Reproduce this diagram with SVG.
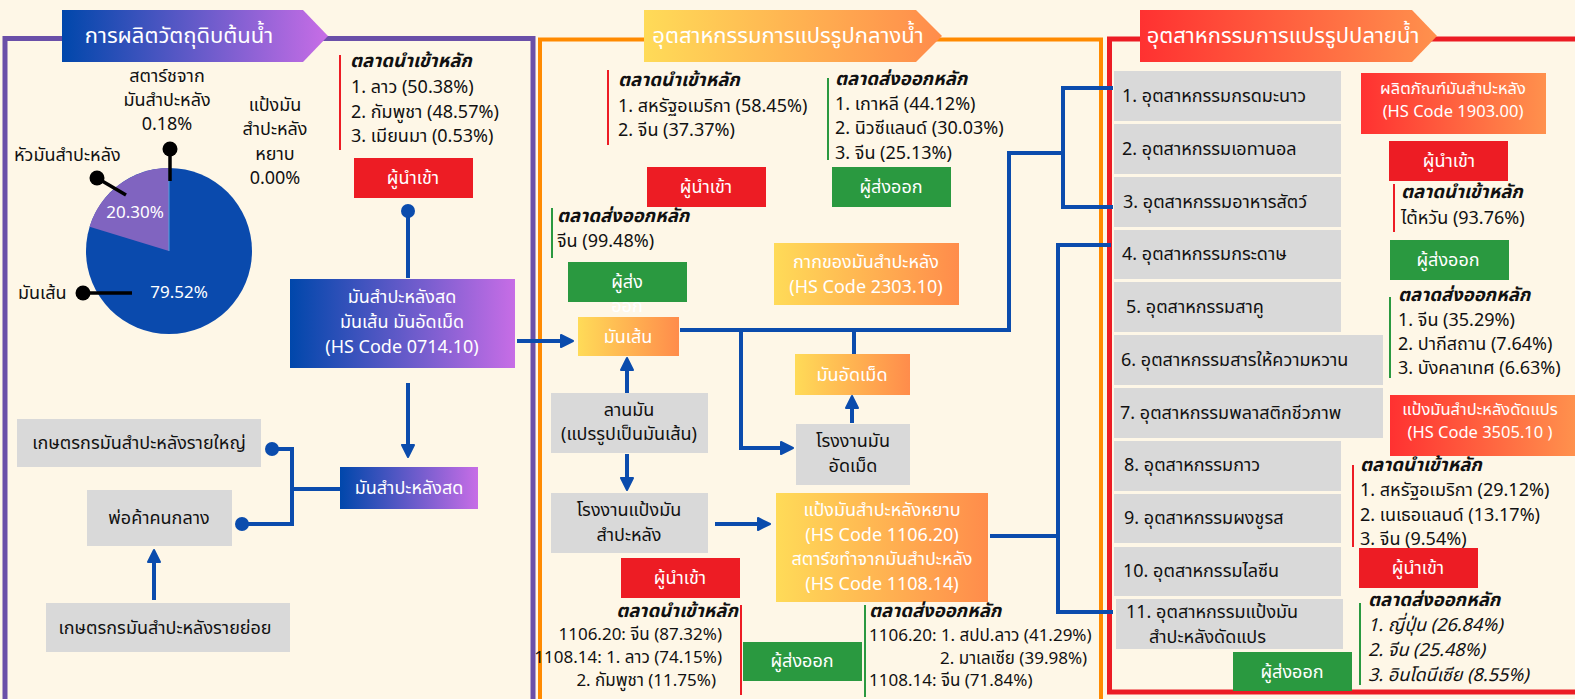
<svg xmlns="http://www.w3.org/2000/svg" width="1575" height="699" viewBox="0 0 1575 699">
<defs>
<linearGradient id="gB" x1="0" y1="0" x2="1" y2="0"><stop offset="0" stop-color="#0047AB"/><stop offset="1" stop-color="#C76DE6"/></linearGradient>
<linearGradient id="gY" x1="0" y1="0" x2="1" y2="0"><stop offset="0" stop-color="#FFDB58"/><stop offset="1" stop-color="#FF8C4B"/></linearGradient>
<linearGradient id="gR" x1="0" y1="0" x2="1" y2="0"><stop offset="0" stop-color="#FF3131"/><stop offset="1" stop-color="#FF914D"/></linearGradient>
<marker id="ar" markerUnits="userSpaceOnUse" markerWidth="16" markerHeight="16" viewBox="0 0 16 16" refX="11" refY="8" orient="auto"><path d="M2,2 L14,8 L2,14 z" fill="#0B4CAD" stroke="#0B4CAD" stroke-width="2" stroke-linejoin="round"/></marker>
</defs>
<style>
text{font-family:"Noto Sans Thai","Noto Sans Thai UI","Noto Sans",sans-serif;font-size:18px;fill:#111;dominant-baseline:central}
.w{fill:#fff}
.m{text-anchor:middle}
.e{text-anchor:end}
.h{font-size:22px;fill:#fff;text-anchor:middle}
.b{font-weight:bold;font-style:italic;font-size:18.5px}
.i{font-style:italic}
.s{font-size:16.5px}
.n{font-size:17px}
.g{fill:#D9D9D9}
.red{fill:#ED1C24}
.grn{fill:#2A9940}
.c{fill:none;stroke:#0B4CAD;stroke-width:4}
.p{stroke:#000;stroke-width:3.5}
</style>
<rect width="1575" height="699" fill="#FEF7E7"/>
<!-- section frames -->
<g id="frames" fill="none">
<rect x="5" y="38.5" width="528" height="700" stroke="#6A4FA8" stroke-width="5"/>
<rect x="540" y="39.5" width="561" height="700" stroke="#FF8A00" stroke-width="4"/>
<rect x="1109.5" y="39" width="520" height="653" stroke="#EC1C24" stroke-width="5"/>
</g>
<g id="header1"><polygon points="62,10 303,10 328,36 303,62 62,62" fill="url(#gB)"/><text class="h" x="179" y="36">การผลิตวัตถุดิบต้นน้ำ</text></g>
<g id="header2"><polygon points="644,10 916,10 942,36 916,62 644,62" fill="url(#gY)"/><text class="h" x="788" y="36">อุตสาหกรรมการแปรรูปกลางน้ำ</text></g>
<g id="header3"><polygon points="1140,10 1412,10 1437,36 1412,62 1140,62" fill="url(#gR)"/><text class="h" x="1283" y="36">อุตสาหกรรมการแปรรูปปลายน้ำ</text></g>

<!-- pie -->
<g id="pie">
<circle cx="169" cy="251" r="83" fill="#0A4AAD"/>
<path d="M169,251 L169,168 A83,83 0 0 0 89.6,226.7 Z" fill="#8064C0"/>
<line x1="169" y1="168" x2="169" y2="251" stroke="#4FA3E0" stroke-width="1"/>
<text class="w m" x="135" y="213" style="font-size:17px">20.30%</text>
<text class="w m" x="179" y="293" style="font-size:17px">79.52%</text>
<line class="p" x1="97" y1="178" x2="126" y2="195"/><circle cx="97" cy="178" r="7.5"/>
<line class="p" x1="170" y1="149" x2="170" y2="181"/><circle cx="170" cy="149" r="7.5"/>
<line class="p" x1="83" y1="293" x2="132" y2="293"/><circle cx="83" cy="293" r="7.5"/>
<text x="14" y="155">หัวมันสำปะหลัง</text>
<text class="m" x="167" y="76">สตาร์ชจาก</text><text class="m" x="167" y="100">มันสำปะหลัง</text><text class="m" x="167" y="124">0.18%</text>
<text class="m" x="275" y="105">แป้งมัน</text><text class="m" x="275" y="129">สำปะหลัง</text><text class="m" x="275" y="154">หยาบ</text><text class="m" x="275" y="178">0.00%</text>
<text x="18" y="293">มันเส้น</text>
</g>

<g id="imp1"><rect x="339" y="55" width="2" height="95" fill="#ED1C24"/><text class="b" x="350" y="61">ตลาดนำเข้าหลัก</text><text x="351" y="87">1. ลาว (50.38%)</text><text x="351" y="112">2. กัมพูชา (48.57%)</text><text x="351" y="136">3. เมียนมา (0.53%)</text></g>
<g id="btnImp1"><rect class="red" x="354" y="158" width="119" height="40"/><text class="w m" x="413" y="178">ผู้นำเข้า</text></g>
<g id="fresh"><rect x="290" y="279" width="225" height="89" fill="url(#gB)"/><text class="w m" x="402" y="297">มันสำปะหลังสด</text><text class="w m" x="402" y="322">มันเส้น มันอัดเม็ด</text><text class="w m" x="402" y="347">(HS Code 0714.10)</text></g>
<g id="fresh2"><rect x="340" y="467" width="138" height="42" fill="url(#gB)"/><text class="w m" x="409" y="488">มันสำปะหลังสด</text></g>
<g id="bigFarm"><rect class="g" x="17" y="419" width="244" height="48"/><text class="m" x="139" y="443">เกษตรกรมันสำปะหลังรายใหญ่</text></g>
<g id="middle"><rect class="g" x="87" y="490" width="145" height="56"/><text class="m" x="159" y="518">พ่อค้าคนกลาง</text></g>
<g id="smallFarm"><rect class="g" x="46" y="603" width="244" height="49"/><text class="m" x="165" y="628">เกษตรกรมันสำปะหลังรายย่อย</text></g>

<!-- section 2 nodes -->
<g id="imp2"><rect x="607" y="70" width="2" height="75" fill="#ED1C24"/><text class="b" x="618" y="80">ตลาดนำเข้าหลัก</text><text x="618" y="106">1. สหรัฐอเมริกา (58.45%)</text><text x="618" y="130">2. จีน (37.37%)</text></g>
<g id="exp2"><rect x="827" y="78" width="2" height="82" fill="#2A9940"/><text class="b" x="835" y="79">ตลาดส่งออกหลัก</text><text x="835" y="104">1. เกาหลี (44.12%)</text><text x="835" y="128.5">2. นิวซีแลนด์ (30.03%)</text><text x="835" y="153">3. จีน (25.13%)</text></g>
<g id="btnImp2"><rect class="red" x="647" y="167" width="119" height="40"/><text class="w m" x="706" y="187">ผู้นำเข้า</text></g>
<g id="btnExp2"><rect class="grn" x="832" y="167" width="119" height="40"/><text class="w m" x="891" y="187">ผู้ส่งออก</text></g>
<g id="exp3"><rect x="551" y="208" width="2" height="50" fill="#2A9940"/><text class="b" x="557" y="216">ตลาดส่งออกหลัก</text><text x="557" y="241">จีน (99.48%)</text></g>
<g id="btnExp3"><rect class="grn" x="568" y="262" width="119" height="40"/><text class="w m" x="627" y="282">ผู้ส่ง</text><text class="w m" x="627" y="306">ออก</text></g>
<g id="chip"><rect x="578" y="317" width="101" height="39" fill="url(#gY)"/><text class="w m" x="628" y="337">มันเส้น</text></g>
<g id="pulp"><rect x="774" y="243" width="185" height="62" fill="url(#gY)"/><text class="w m" x="866" y="262">กากของมันสำปะหลัง</text><text class="w m" x="866" y="287">(HS Code 2303.10)</text></g>
<g id="pellet"><rect x="795" y="354" width="115" height="41" fill="url(#gY)"/><text class="w m" x="852" y="375">มันอัดเม็ด</text></g>
<g id="pelletFactory"><rect class="g" x="796" y="424" width="114" height="61"/><text class="m" x="853" y="441">โรงงานมัน</text><text class="m" x="853" y="466">อัดเม็ด</text></g>
<g id="yard"><rect class="g" x="551" y="393" width="157" height="60"/><text class="m" x="629" y="410">ลานมัน</text><text class="m" x="629" y="434">(แปรรูปเป็นมันเส้น)</text></g>
<g id="starchFactory"><rect class="g" x="551" y="493" width="157" height="60"/><text class="m" x="629" y="510">โรงงานแป้งมัน</text><text class="m" x="629" y="535">สำปะหลัง</text></g>
<g id="starch"><rect x="776" y="493" width="212" height="109" fill="url(#gY)"/><text class="w m" x="882" y="510">แป้งมันสำปะหลังหยาบ</text><text class="w m" x="882" y="535">(HS Code 1106.20)</text><text class="w m" x="882" y="559">สตาร์ชทำจากมันสำปะหลัง</text><text class="w m" x="882" y="584">(HS Code 1108.14)</text></g>
<g id="btnImp4"><rect class="red" x="621" y="558" width="119" height="40"/><text class="w m" x="680" y="578">ผู้นำเข้า</text></g>
<g id="imp4"><rect x="740" y="605" width="2" height="90" fill="#ED1C24"/><text class="b e" x="738" y="611">ตลาดนำเข้าหลัก</text><text class="e n" x="722" y="635">1106.20: จีน (87.32%)</text><text class="e n" x="722" y="658">1108.14: 1. ลาว (74.15%)</text><text class="e n" x="716" y="681">2. กัมพูชา (11.75%)</text></g>
<g id="btnExp4"><rect class="grn" x="743" y="642" width="119" height="39"/><text class="w m" x="802" y="661">ผู้ส่งออก</text></g>
<g id="exp4"><rect x="864" y="605" width="2" height="92" fill="#2A9940"/><text class="b" x="869" y="611">ตลาดส่งออกหลัก</text><text class="n" x="869" y="636">1106.20: 1. สปป.ลาว (41.29%)</text><text class="n" x="940" y="659">2. มาเลเซีย (39.98%)</text><text class="n" x="869" y="681">1108.14: จีน (71.84%)</text></g>

<!-- section 3 nodes -->
<g id="ind1"><rect class="g" x="1114" y="71" width="227" height="50"/><text x="1122" y="96">1. อุตสาหกรรมกรดมะนาว</text></g>
<g id="ind2"><rect class="g" x="1114" y="124" width="227" height="50"/><text x="1122" y="149">2. อุตสาหกรรมเอทานอล</text></g>
<g id="ind3"><rect class="g" x="1114" y="177" width="227" height="50"/><text x="1123" y="202">3. อุตสาหกรรมอาหารสัตว์</text></g>
<g id="ind4"><rect class="g" x="1114" y="230" width="227" height="49"/><text x="1122" y="254">4. อุตสาหกรรมกระดาษ</text></g>
<g id="ind5"><rect class="g" x="1114" y="282" width="227" height="50"/><text x="1126" y="307">5. อุตสาหกรรมสาคู</text></g>
<g id="ind6"><rect class="g" x="1114" y="335" width="269" height="50"/><text x="1121" y="360">6. อุตสาหกรรมสารให้ความหวาน</text></g>
<g id="ind7"><rect class="g" x="1114" y="388" width="269" height="50"/><text x="1120" y="413">7. อุตสาหกรรมพลาสติกชีวภาพ</text></g>
<g id="ind8"><rect class="g" x="1114" y="441" width="227" height="50"/><text x="1124" y="465">8. อุตสาหกรรมกาว</text></g>
<g id="ind9"><rect class="g" x="1114" y="494" width="227" height="49"/><text x="1124" y="518">9. อุตสาหกรรมผงชูรส</text></g>
<g id="ind10"><rect class="g" x="1114" y="547" width="227" height="49"/><text x="1123" y="571">10. อุตสาหกรรมไลซีน</text></g>
<g id="ind11"><rect class="g" x="1116" y="599" width="227" height="50"/><text x="1126" y="612">11. อุตสาหกรรมแป้งมัน</text><text x="1149" y="637">สำปะหลังดัดแปร</text></g>

<g id="prod1903"><rect x="1361" y="73" width="185" height="61" fill="url(#gR)"/><text class="w m s" x="1453" y="88">ผลิตภัณฑ์มันสำปะหลัง</text><text class="w m s" x="1453" y="111">(HS Code 1903.00)</text></g>
<g id="btnImp5"><rect class="red" x="1389" y="141" width="119" height="40"/><text class="w m" x="1449" y="161">ผู้นำเข้า</text></g>
<g id="imp5"><rect x="1393" y="184" width="2" height="48" fill="#ED1C24"/><text class="b" x="1401" y="192">ตลาดนำเข้าหลัก</text><text x="1401" y="218">ไต้หวัน (93.76%)</text></g>
<g id="btnExp5"><rect class="grn" x="1390" y="240" width="119" height="40"/><text class="w m" x="1448" y="260">ผู้ส่งออก</text></g>
<g id="exp5"><rect x="1389" y="297" width="2" height="81" fill="#2A9940"/><text class="b" x="1398" y="295">ตลาดส่งออกหลัก</text><text x="1398" y="320">1. จีน (35.29%)</text><text x="1398" y="344">2. ปากีสถาน (7.64%)</text><text x="1398" y="368">3. บังคลาเทศ (6.63%)</text></g>
<g id="mod3505"><rect x="1390" y="395" width="185" height="61" fill="url(#gR)"/><text class="w m s" x="1480" y="409">แป้งมันสำปะหลังดัดแปร</text><text class="w m s" x="1480" y="432">(HS Code 3505.10 )</text></g>
<g id="imp6"><rect x="1352" y="465" width="2" height="82" fill="#ED1C24"/><text class="b" x="1360" y="465">ตลาดนำเข้าหลัก</text><text x="1360" y="490">1. สหรัฐอเมริกา (29.12%)</text><text x="1360" y="515">2. เนเธอแลนด์ (13.17%)</text><text x="1360" y="539">3. จีน (9.54%)</text></g>
<g id="btnImp6"><rect class="red" x="1359" y="548" width="119" height="40"/><text class="w m" x="1418" y="568">ผู้นำเข้า</text></g>
<g id="exp6"><rect x="1359" y="603" width="2" height="82" fill="#2A9940"/><text class="b" x="1368" y="600">ตลาดส่งออกหลัก</text><text class="i" x="1368" y="625">1. ญี่ปุ่น (26.84%)</text><text class="i" x="1368" y="650">2. จีน (25.48%)</text><text class="i" x="1368" y="675">3. อินโดนีเซีย (8.55%)</text></g>
<g id="btnExp6"><rect class="grn" x="1233" y="652" width="119" height="39"/><text class="w m" x="1292" y="672">ผู้ส่งออก</text></g>

<!-- connectors -->
<g id="connectors">
<path class="c" d="M408,211 V278"/><circle cx="408" cy="211" r="7" fill="#0B4CAD"/>
<path class="c" d="M408,383 V454" marker-end="url(#ar)"/>
<path class="c" d="M517,341 H570" marker-end="url(#ar)"/>
<path class="c" d="M272,449 H292 V524 H242"/><path class="c" d="M292,489 H340"/>
<circle cx="272" cy="449" r="7" fill="#0B4CAD"/><circle cx="242" cy="524" r="7" fill="#0B4CAD"/>
<path class="c" d="M154,600 V553" marker-end="url(#ar)"/>
<path class="c" d="M627,393 V361" marker-end="url(#ar)"/>
<path class="c" d="M627,454 V487" marker-end="url(#ar)"/>
<path class="c" d="M680,330 H1009 V153 H1063"/>
<path class="c" d="M1113,88 H1063 V207 H1113"/>
<path class="c" d="M741,330 V448 H790" marker-end="url(#ar)"/>
<path class="c" d="M854,330 V354"/>
<path class="c" d="M852,423 V399" marker-end="url(#ar)"/>
<path class="c" d="M715,524 H767" marker-end="url(#ar)"/>
<path class="c" d="M990,536 H1058"/>
<path class="c" d="M1111,245 H1058 V612 H1113"/>
</g>
</svg>
